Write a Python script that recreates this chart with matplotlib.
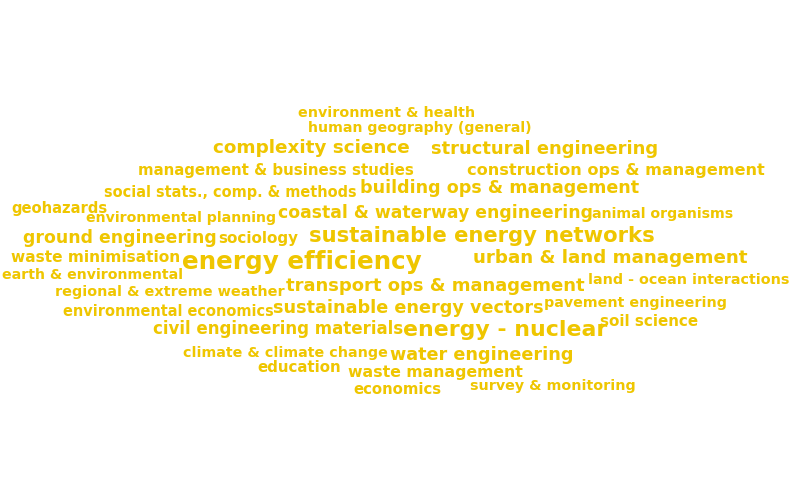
import matplotlib
matplotlib.use("Agg")
import matplotlib.pyplot as plt

words = ["environment & health","human geography (general)","complexity science","structural engineering",
"management & business studies","construction ops & management","social stats., comp. & methods",
"building ops & management","geohazards","environmental planning","coastal & waterway engineering",
"animal organisms","ground engineering","sociology","sustainable energy networks","waste minimisation",
"energy efficiency","urban & land management","earth & environmental","land - ocean interactions",
"regional & extreme weather","transport ops & management","sustainable energy vectors","pavement engineering",
"environmental economics","soil science","civil engineering materials","energy - nuclear",
"climate & climate change","water engineering","education","waste management","economics","survey & monitoring"]
xs = [387,420,311,545,276,616,230,500,60,181,435,663,120,258,482,96,302,610,92,689,170,435,408,635,168,649,278,505,285,482,299,435,397,553]
ys = [113,128,148,149,170,170,192,188,208,218,213,214,238,238,236,258,262,258,275,280,292,286,308,303,311,321,329,330,353,355,368,373,389,386]
sizes = [16,16,22,22,17,18,16,20,16,16,20,16,21,16,25,16,30,21,16,16,16,21,19,16,15,16,18,24,16,20,15,16,16,16]
widths = [176,222,196,226,278,296,252,280,96,190,314,140,194,80,346,168,240,276,180,200,228,302,270,182,210,98,252,204,204,184,84,174,88,164]

W, H = 792, 503
fig = plt.figure(figsize=(W/100, H/100), dpi=100)
ax = fig.add_axes([0, 0, 1, 1])
ax.set_xlim(0, W); ax.set_ylim(H, 0); ax.axis("off")
r = fig.canvas.get_renderer()
for w, x, y, s, tw in zip(words, xs, ys, sizes, widths):
    t = ax.text(x, y, w, ha="center", va="center", color="#efc600",
                fontsize=s*0.75, family="DejaVu Sans", fontweight="bold")
    bb = t.get_window_extent(renderer=r)
    t.set_fontsize(s*0.75*tw/bb.width)
fig.savefig("out.png", dpi=100)
